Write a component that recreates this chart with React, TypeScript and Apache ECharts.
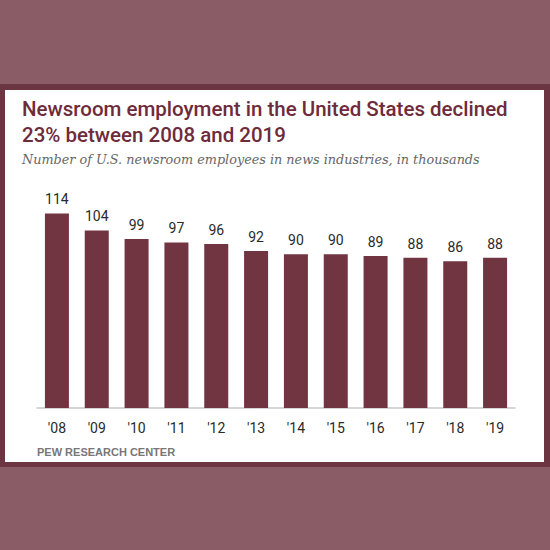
import React, { useEffect, useRef } from 'react';
import * as echarts from 'echarts';

const years = ["'08", "'09", "'10", "'11", "'12", "'13", "'14", "'15", "'16", "'17", "'18", "'19"];
const employees = [114, 104, 99, 97, 96, 92, 90, 90, 89, 88, 86, 88];

const App = () => {
  const chartRef = useRef<HTMLDivElement>(null);

  useEffect(() => {
    if (!chartRef.current) return;
    const chart = echarts.init(chartRef.current, null, { renderer: 'svg' });
    const option: echarts.EChartsOption = {
      animation: false,
      backgroundColor: '#8a5c65',
      graphic: [
        { type: 'rect', shape: { x: 0, y: 84, width: 550, height: 383 }, style: { fill: '#6b3541' }, z: -2 },
        { type: 'rect', shape: { x: 5, y: 90, width: 539, height: 372 }, style: { fill: '#ffffff' }, z: -1 },
        {
          type: 'text', left: 22, top: 96,
          style: {
            text: 'Newsroom employment in the United States declined\n23% between 2008 and 2019',
            font: '500 20.5px Roboto', fill: '#6e2b3b', lineHeight: 26,
          },
        },
        {
          type: 'text', left: 22, top: 153,
          style: {
            text: 'Number of U.S. newsroom employees in news industries, in thousands',
            font: 'italic 12.8px "DejaVu Serif"', fill: '#666666',
          },
        },
        {
          type: 'text', left: 37, top: 446,
          style: { text: 'PEW RESEARCH CENTER', font: 'bold 11px "Liberation Sans"', fill: '#777777' },
        },
      ],
      grid: { left: 37, right: 35, top: 169, bottom: 142 },
      xAxis: {
        type: 'category',
        data: years,
        axisTick: { show: false },
        axisLine: { lineStyle: { color: '#c8c8c8', width: 1.5 } },
        axisLabel: { color: '#2a2a2a', fontSize: 14, fontFamily: 'Roboto', margin: 13 },
      },
      yAxis: { type: 'value', min: 0, max: 140, show: false },
      series: [
        {
          type: 'bar',
          data: employees,
          barWidth: 24,
          itemStyle: { color: '#713441' },
          label: { show: true, position: 'top', distance: 7, color: '#2a2a2a', fontSize: 14, fontFamily: 'Roboto' },
        },
      ],
    };
    chart.setOption(option);
    return () => {
      chart.dispose();
    };
  }, []);

  return <div ref={chartRef} style={{ position: 'fixed', left: 0, top: 0, width: 550, height: 550 }} />;
};

export default App;
